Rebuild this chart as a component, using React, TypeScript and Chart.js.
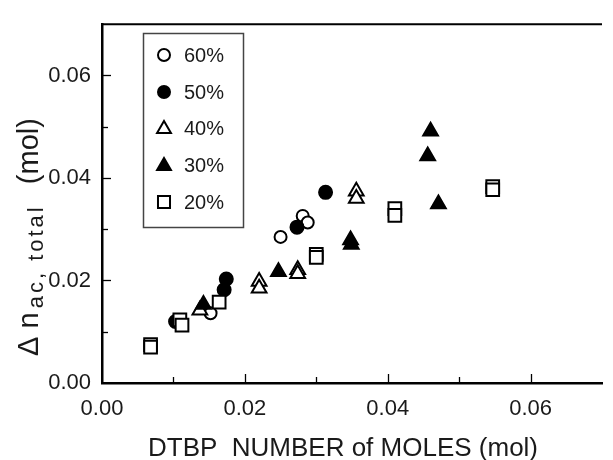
import React, { useEffect, useRef } from 'react';
import { Chart, registerables } from 'chart.js';

Chart.register(...registerables);

const seriesLabels = ['60%', '50%', '40%', '30%', '20%'];
const x60 = [0.0152, 0.0250, 0.0281, 0.0288];
const y60 = [0.0136, 0.0285, 0.0326, 0.0313];
const x50 = [0.0103, 0.0171, 0.0174, 0.0273, 0.0313];
const y50 = [0.0120, 0.0182, 0.0203, 0.0304, 0.0372];
const x40 = [0.0137, 0.0220, 0.0220, 0.0274, 0.0274, 0.0356, 0.0356];
const y40 = [0.0142, 0.0198, 0.0185, 0.0221, 0.0213, 0.0374, 0.0360];
const x30 = [0.0142, 0.0247, 0.0348, 0.0349, 0.0456, 0.0460, 0.0471];
const y30 = [0.0153, 0.0217, 0.0279, 0.0270, 0.0443, 0.0491, 0.0349];
const x20 = [0.0068, 0.0068, 0.0109, 0.0112, 0.0164, 0.0300, 0.0300, 0.0410, 0.0410, 0.0547, 0.0547];
const y20 = [0.0075, 0.0070, 0.0123, 0.0113, 0.0158, 0.0251, 0.0245, 0.0340, 0.0327, 0.0383, 0.0377];

const xTicks = [0, 0.02, 0.04, 0.06];
const yTicks = [0, 0.02, 0.04, 0.06];
const xMinorTicks = [0.01, 0.03, 0.05];
const yMinorTicks = [0.01, 0.03, 0.05];

const xTitle = 'DTBP  NUMBER of MOLES (mol)';
const yTitleMain = 'Δ n';
const yTitleSub = 'ac, total';
const yTitleUnit = '  (mol)';

const FONT = '"Liberation Sans", Arial, sans-serif';
const INK = '#1a1a1a';

type Style = { shape: 'circle' | 'triangle' | 'rect'; filled: boolean; radius: number };
const styles: Style[] = [
  { shape: 'circle', filled: false, radius: 6 },
  { shape: 'circle', filled: true, radius: 6.5 },
  { shape: 'triangle', filled: false, radius: 8.5 },
  { shape: 'triangle', filled: true, radius: 8.5 },
  { shape: 'rect', filled: false, radius: 9 },
];

function drawMarker(ctx: CanvasRenderingContext2D, s: Style, x: number, y: number, r: number) {
  ctx.save();
  ctx.beginPath();
  if (s.shape === 'circle') {
    ctx.arc(x, y, r, 0, Math.PI * 2);
  } else if (s.shape === 'triangle') {
    const w = r * Math.sqrt(3) / 2;
    ctx.moveTo(x, y - r);
    ctx.lineTo(x + w, y + r / 2);
    ctx.lineTo(x - w, y + r / 2);
    ctx.closePath();
  } else {
    const h = r * Math.SQRT1_2;
    ctx.rect(x - h, y - h, 2 * h, 2 * h);
  }
  ctx.fillStyle = s.filled ? '#000' : '#fff';
  ctx.fill();
  ctx.lineWidth = 2;
  ctx.strokeStyle = '#000';
  ctx.stroke();
  ctx.restore();
}

const decorPlugin = {
  id: 'decor',
  afterDraw(chart: any) {
    const ctx: CanvasRenderingContext2D = chart.ctx;
    const { left, right, top, bottom } = chart.chartArea;
    const xs = chart.scales.x;
    const ys = chart.scales.y;
    ctx.save();
    ctx.strokeStyle = '#000';
    // top frame
    ctx.lineWidth = 2;
    ctx.beginPath();
    ctx.moveTo(left, top);
    ctx.lineTo(right, top);
    ctx.stroke();
    // inward ticks
    ctx.lineWidth = 1.3;
    const tickX = (v: number, len: number) => {
      const px = Math.round(xs.getPixelForValue(v)) + 0.5;
      ctx.beginPath();
      ctx.moveTo(px, bottom);
      ctx.lineTo(px, bottom - len);
      ctx.stroke();
    };
    const tickY = (v: number, len: number) => {
      const py = Math.round(ys.getPixelForValue(v)) + 0.5;
      ctx.beginPath();
      ctx.moveTo(left, py);
      ctx.lineTo(left + len, py);
      ctx.stroke();
    };
    xTicks.forEach((v) => v > 0 && tickX(v, 9));
    xMinorTicks.forEach((v) => tickX(v, 6));
    yTicks.forEach((v) => v > 0 && tickY(v, 9));
    yMinorTicks.forEach((v) => tickY(v, 6));

    // legend
    const lx = 143, ly = 33, lw = 100, lh = 194;
    ctx.lineWidth = 1.5;
    ctx.strokeStyle = '#444';
    ctx.fillStyle = '#fff';
    ctx.fillRect(lx, ly, lw, lh);
    ctx.strokeRect(lx + 0.5, ly + 0.5, lw, lh);
    const rowY = [55, 92, 128, 165, 202];
    ctx.font = `20px ${FONT}`;
    ctx.textBaseline = 'middle';
    ctx.textAlign = 'left';
    seriesLabels.forEach((lab, i) => {
      const st = styles[i];
      const r = st.shape === 'rect' ? 8.5 : st.shape === 'triangle' ? 8 : 6;
      drawMarker(ctx, st, 164, rowY[i] + (st.shape === 'triangle' ? 1 : 0), r);
      ctx.fillStyle = INK;
      ctx.fillText(lab, 184, rowY[i] + 1);
    });

    // x title
    ctx.fillStyle = INK;
    ctx.font = `26px ${FONT}`;
    ctx.textAlign = 'center';
    ctx.textBaseline = 'alphabetic';
    ctx.fillText(xTitle, 343, 456);

    // y title (rotated with subscript)
    ctx.save();
    const mainF = `29px ${FONT}`;
    const subF = `22px ${FONT}`;
    const subSpacing = '3px';
    (ctx as any).letterSpacing = '0px';
    ctx.font = mainF;
    const w1 = ctx.measureText(yTitleMain).width + 4;
    const w3 = ctx.measureText(yTitleUnit).width;
    ctx.font = subF;
    (ctx as any).letterSpacing = subSpacing;
    const w2 = ctx.measureText(yTitleSub).width + 4;
    (ctx as any).letterSpacing = '0px';
    const total = w1 + w2 + w3;
    ctx.translate(38, 237);
    ctx.rotate(-Math.PI / 2);
    ctx.textAlign = 'left';
    ctx.textBaseline = 'alphabetic';
    let cx = -total / 2;
    ctx.font = mainF;
    ctx.fillText(yTitleMain, cx, 0);
    cx += w1;
    ctx.font = subF;
    (ctx as any).letterSpacing = subSpacing;
    ctx.fillText(yTitleSub, cx, 5);
    (ctx as any).letterSpacing = '0px';
    cx += w2;
    ctx.font = mainF;
    ctx.fillText(yTitleUnit, cx, 0);
    ctx.restore();

    ctx.restore();
  },
};

function mk(xv: number[], yv: number[]) {
  return xv.map((x, i) => ({ x, y: yv[i] }));
}

export default function App() {
  const ref = useRef<HTMLCanvasElement | null>(null);
  useEffect(() => {
    document.body.style.margin = '0';
    const xsData = [x60, x50, x40, x30, x20];
    const ysData = [y60, y50, y40, y30, y20];
    const datasets = seriesLabels.map((lab, i) => ({
      label: lab,
      data: mk(xsData[i], ysData[i]),
      pointStyle: styles[i].shape,
      pointRadius: styles[i].radius,
      pointHoverRadius: styles[i].radius,
      pointBackgroundColor: styles[i].filled ? '#000' : '#fff',
      pointBorderColor: '#000',
      pointBorderWidth: 2,
      showLine: false,
      order: 4 - i,
    }));
    const chart = new Chart(ref.current as HTMLCanvasElement, {
      type: 'scatter',
      data: { datasets },
      plugins: [decorPlugin],
      options: {
        animation: false,
        responsive: false,
        maintainAspectRatio: false,
        layout: { padding: { top: 11, left: 0, right: 0, bottom: 0 } },
        plugins: { legend: { display: false }, tooltip: { enabled: false } },
        scales: {
          x: {
            type: 'linear',
            min: 0,
            max: 0.07,
            afterBuildTicks: (s: any) => { s.ticks = xTicks.map((v) => ({ value: v })); },
            afterFit: (s: any) => { s.height = 77; },
            grid: { display: true, drawOnChartArea: false, drawTicks: false },
            border: { display: true, color: '#000', width: 2.5 },
            ticks: {
              color: INK,
              padding: 13,
              maxRotation: 0,
              font: { family: FONT, size: 22 },
              callback: (v: any) => Number(v).toFixed(2),
            },
          },
          y: {
            type: 'linear',
            min: 0,
            max: 0.07,
            afterBuildTicks: (s: any) => { s.ticks = yTicks.map((v) => ({ value: v })); },
            afterFit: (s: any) => { s.width = 102; },
            grid: { display: true, drawOnChartArea: false, drawTicks: false },
            border: { display: true, color: '#000', width: 2.5 },
            ticks: {
              color: INK,
              padding: 11,
              font: { family: FONT, size: 22 },
              callback: (v: any) => Number(v).toFixed(2),
            },
          },
        },
      },
    } as any);
    return () => chart.destroy();
  }, []);
  return <canvas ref={ref} width={613} height={460} style={{ display: 'block' }} />;
}
